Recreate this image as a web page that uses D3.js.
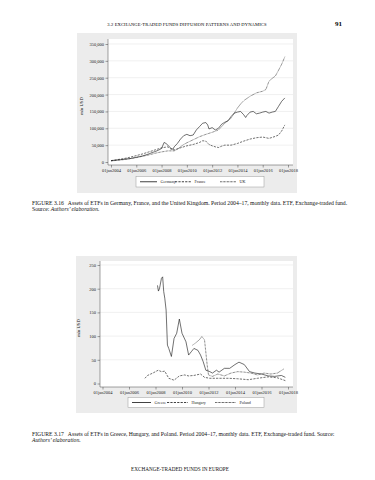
<!DOCTYPE html>
<html>
<head>
<meta charset="utf-8">
<script src="https://cdn.jsdelivr.net/npm/d3@7"></script>
<style>
  body { margin: 0; background: #fff; }
  svg { display: block; font-family: "Liberation Serif", "DejaVu Serif", serif; }
</style>
</head>
<body>
<svg id="svg" width="375" height="480"></svg>
<script>
// values, [year, value]
// figure 3.16 values in thousand mln USD
const germany = [[2004.0, 4], [2004.25, 5], [2004.5, 6], [2004.75, 7], [2005.0, 8], [2005.25, 9], [2005.5, 10], [2005.75, 12],
  [2006.0, 14], [2006.25, 16], [2006.5, 18], [2006.75, 21], [2007.0, 24], [2007.25, 28], [2007.5, 31], [2007.75, 35],
  [2008.0, 40], [2008.2, 58], [2008.35, 55], [2008.5, 50], [2008.75, 40], [2008.9, 38], [2009.0, 45], [2009.25, 55],
  [2009.5, 68], [2009.75, 78], [2010.0, 82], [2010.25, 78], [2010.5, 80], [2010.75, 95], [2011.0, 105], [2011.25, 115],
  [2011.5, 117], [2011.65, 110], [2011.75, 98], [2012.0, 102], [2012.25, 95], [2012.5, 100], [2012.75, 112], [2013.0, 118],
  [2013.25, 122], [2013.5, 135], [2013.75, 145], [2014.0, 148], [2014.25, 150], [2014.5, 140], [2014.65, 132], [2014.75, 138],
  [2015.0, 148], [2015.25, 150], [2015.5, 143], [2015.75, 145], [2016.0, 148], [2016.25, 150], [2016.5, 145], [2016.75, 148],
  [2017.0, 150], [2017.25, 165], [2017.5, 180], [2017.75, 190]]
const france = [[2004.0, 4], [2004.5, 7], [2005.0, 10], [2005.5, 14], [2006.0, 19], [2006.5, 24], [2007.0, 30], [2007.5, 36],
  [2008.0, 42], [2008.5, 45], [2008.75, 38], [2009.0, 36], [2009.5, 42], [2010.0, 48], [2010.5, 52], [2011.0, 58],
  [2011.25, 63], [2011.5, 62], [2011.75, 52], [2012.0, 48], [2012.25, 45], [2012.5, 43], [2012.75, 47], [2013.0, 50],
  [2013.5, 50], [2014.0, 55], [2014.5, 62], [2015.0, 68], [2015.5, 72], [2016.0, 74], [2016.5, 70], [2017.0, 76],
  [2017.25, 80], [2017.5, 92], [2017.75, 110]]
const uk = [[2004.0, 3], [2004.5, 5], [2005.0, 7], [2005.5, 10], [2006.0, 13], [2006.5, 17], [2007.0, 21], [2007.5, 26],
  [2008.0, 30], [2008.5, 33], [2009.0, 33], [2009.25, 38], [2009.5, 45], [2009.75, 52], [2010.0, 57], [2010.5, 66],
  [2011.0, 75], [2011.5, 82], [2012.0, 88], [2012.5, 95], [2013.0, 115], [2013.5, 130], [2013.75, 145], [2014.0, 160],
  [2014.25, 172], [2014.5, 182], [2015.0, 195], [2015.5, 205], [2016.0, 210], [2016.25, 215], [2016.5, 240], [2016.75, 248],
  [2017.0, 255], [2017.25, 272], [2017.5, 290], [2017.75, 312]]

// figure 3.17 values in mln USD
const greece = [[2008.15, 207], [2008.22, 195], [2008.3, 200], [2008.45, 222], [2008.54, 225], [2008.62, 194], [2008.7, 180],
  [2008.8, 155], [2008.9, 81], [2009.0, 74], [2009.2, 57], [2009.4, 95], [2009.6, 106], [2009.8, 136], [2010.0, 106],
  [2010.3, 88], [2010.5, 60], [2010.7, 67], [2010.9, 74], [2011.2, 70], [2011.4, 60], [2011.6, 46], [2011.8, 28],
  [2012.1, 25], [2012.3, 22], [2012.6, 28], [2012.8, 24], [2013.2, 32], [2013.6, 32], [2014.0, 40], [2014.3, 45],
  [2014.7, 40], [2015.1, 25], [2015.5, 22], [2016.0, 20], [2016.5, 16], [2017.0, 15], [2017.5, 17], [2017.8, 13]]
const hungary = [[2007.2, 11], [2007.4, 17], [2007.8, 22], [2008.2, 28], [2008.45, 25], [2008.7, 26], [2009.0, 11],
  [2009.4, 7], [2009.8, 16], [2010.2, 18], [2010.5, 16], [2010.9, 17], [2011.4, 20], [2011.7, 13], [2012.1, 11],
  [2012.7, 11], [2013.5, 11], [2014.2, 10], [2015.0, 8], [2015.7, 11], [2016.5, 14], [2017.2, 12], [2017.8, 6]]
const poland = [[2010.8, 81], [2011.0, 85], [2011.3, 92], [2011.5, 99], [2011.7, 92], [2011.9, 39], [2012.0, 18],
  [2012.3, 15], [2012.7, 20], [2013.2, 16], [2013.7, 22], [2014.2, 25], [2014.7, 24], [2015.2, 22], [2015.7, 18],
  [2016.2, 22], [2016.7, 20], [2017.2, 22], [2017.7, 31]]

const xTicks = [2004, 2006, 2008, 2010, 2012, 2014, 2016, 2018]
const yTicks1 = [0, 50000, 100000, 150000, 200000, 250000, 300000, 350000]
const yTicks2 = [0, 50, 100, 150, 200, 250]

const svg = d3.select('#svg')

// running head
svg.append('text').attr('x', 187).attr('y', 25.5).attr('text-anchor', 'middle')
  .attr('font-size', 4.6).attr('letter-spacing', 0.1)
  .text('3.2 EXCHANGE-TRADED FUNDS DIFFUSION PATTERNS AND DYNAMICS')
svg.append('text').attr('x', 342).attr('y', 26).attr('text-anchor', 'end')
  .attr('font-size', 7).attr('font-weight', 'bold').text('91')

const drawChart = (cfg) => {
  const g = svg.append('g')
  g.append('rect').attr('x', cfg.panel[0]).attr('y', cfg.panel[1])
    .attr('width', cfg.panel[2]).attr('height', cfg.panel[3]).attr('fill', '#ececec')
  g.append('rect').attr('x', cfg.plot[0]).attr('y', cfg.plot[1])
    .attr('width', cfg.plot[2] - cfg.plot[0]).attr('height', cfg.plot[3] - cfg.plot[1]).attr('fill', '#fff')

  const xScale = d3.scaleLinear().domain([2004, 2018]).range(cfg.xRange)
  const yScale = d3.scaleLinear().domain(cfg.yDomain).range(cfg.yRange)

  // gridlines
  g.append('g').selectAll('line')
    .data(cfg.yTicks.slice(1))
    .enter()
    .append('line')
    .attr('x1', cfg.plot[0]).attr('x2', cfg.plot[2])
    .attr('y1', d => yScale(d)).attr('y2', d => yScale(d))
    .attr('stroke', '#e6e6e6').attr('stroke-width', 0.6)

  const yAxis = d3.axisLeft(yScale).tickValues(cfg.yTicks).tickFormat(cfg.yFormat).tickSize(2.5).tickPadding(1.5)
  const xAxis = d3.axisBottom(xScale).tickValues(xTicks).tickFormat(d => '01jan' + d).tickSize(2.5).tickPadding(1.5)

  const ya = g.append('g').attr('transform', `translate(${cfg.plot[0]}, 0)`).call(yAxis)
  ya.select('.domain').attr('d', `M0,${cfg.plot[3]}V${cfg.plot[1]}`)
  const xa = g.append('g').attr('transform', `translate(0, ${cfg.plot[3]})`).call(xAxis)
  xa.select('.domain').attr('d', `M${cfg.plot[0]},0H${cfg.plot[2]}`)
  g.selectAll('.domain').attr('stroke', '#444').attr('stroke-width', 0.5)
  g.selectAll('.tick line').attr('stroke', '#444').attr('stroke-width', 0.5)
  g.selectAll('.tick text').attr('font-family', '"Liberation Serif", serif').attr('font-size', 4.5).attr('fill', '#222')

  g.append('text')
    .attr('transform', `translate(${cfg.titleX}, ${(cfg.plot[1] + cfg.plot[3]) / 2 + 4}) rotate(-90)`)
    .attr('text-anchor', 'middle').attr('font-size', 4.6).attr('fill', '#222').text('mln USD')

  const line = d3.line().x(d => xScale(d[0])).y(d => yScale(d[1] * cfg.mult))
  cfg.series.forEach(s => {
    g.append('path').datum(s.data).attr('d', line)
      .attr('fill', 'none').attr('stroke', '#111').attr('stroke-width', s.w)
      .attr('stroke-dasharray', s.dash)
  })

  // legend
  const lg = cfg.legend
  g.append('rect').attr('x', lg.x).attr('y', lg.y).attr('width', lg.w).attr('height', lg.h)
    .attr('fill', '#fff').attr('stroke', '#999').attr('stroke-width', 0.5)
  cfg.series.forEach((s, i) => {
    const lx = lg.items[i]
    g.append('line').attr('x1', lx[0]).attr('x2', lx[1])
      .attr('y1', lg.y + lg.h / 2).attr('y2', lg.y + lg.h / 2)
      .attr('stroke', '#111').attr('stroke-width', s.w + 0.2).attr('stroke-dasharray', s.dash)
    g.append('text').attr('x', lx[1] + 3.5).attr('y', lg.y + lg.h / 2 + 1.4)
      .attr('font-size', 4.1).attr('fill', '#222').text(s.name)
  })
}

drawChart({
  panel: [77, 33, 220, 160],
  plot: [108, 39, 293, 165],
  xRange: [111, 288],
  yDomain: [0, 350000],
  yRange: [162, 44],
  yTicks: yTicks1,
  yFormat: d3.format(','),
  mult: 1000,
  titleX: 83,
  series: [
    { name: 'Germany', data: germany, dash: null, w: 0.6 },
    { name: 'France', data: france, dash: '2.2,1.2', w: 0.6 },
    { name: 'UK', data: uk, dash: '0.7,0.7', w: 0.7 }
  ],
  legend: { x: 136, y: 176.5, w: 128, h: 10.5, items: [[140, 157], [175, 191], [220, 236]] }
})

drawChart({
  panel: [76, 256, 221, 157],
  plot: [100, 261, 293, 387],
  xRange: [102.5, 288],
  yDomain: [0, 250],
  yRange: [383.5, 265],
  yTicks: yTicks2,
  yFormat: d3.format('d'),
  mult: 1,
  titleX: 80,
  series: [
    { name: 'Greece', data: greece, dash: null, w: 0.6 },
    { name: 'Hungary', data: hungary, dash: '2.2,1.2', w: 0.6 },
    { name: 'Poland', data: poland, dash: '0.7,0.7', w: 0.7 }
  ],
  legend: { x: 128, y: 397.5, w: 136, h: 10, items: [[132, 151], [167, 188], [215, 236]] }
})

// captions
const caption = (y, parts) => {
  const t = svg.append('text').attr('x', 32).attr('y', y).attr('font-size', 5.7).attr('fill', '#111')
  parts.forEach(p => t.append('tspan').attr('font-style', p.i ? 'italic' : null).text(p.t))
}
caption(205, [{ t: 'FIGURE 3.16\u2002 Assets of ETFs in Germany, France, and the United Kingdom. Period 2004\u201317, monthly data. ETF, Exchange-traded fund.' }])
caption(210.5, [{ t: 'Source: ' }, { t: 'Authors\u2019 elaboration.', i: true }])
caption(436, [{ t: 'FIGURE 3.17\u2002 Assets of ETFs in Greece, Hungary, and Poland. Period 2004\u201317, monthly data. ETF, Exchange-traded fund. Source:' }])
caption(441.5, [{ t: 'Authors\u2019 elaboration.', i: true }])

svg.append('text').attr('x', 180).attr('y', 470.5).attr('text-anchor', 'middle')
  .attr('font-size', 5.2).attr('fill', '#111').text('EXCHANGE-TRADED FUNDS IN EUROPE')
</script>
</body>
</html>
